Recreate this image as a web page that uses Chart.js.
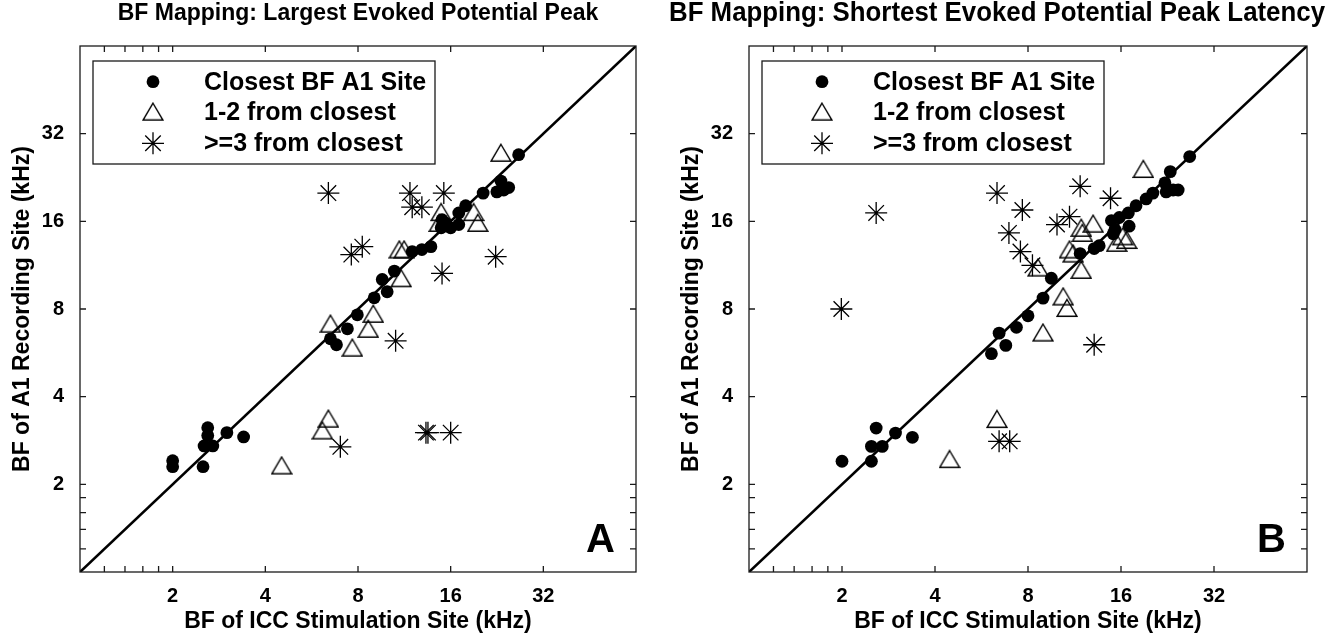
<!DOCTYPE html>
<html>
<head>
<meta charset="utf-8">
<script src="https://cdn.jsdelivr.net/npm/chart.js@4.4.1/dist/chart.umd.min.js"></script>
<style>
  html, body { margin: 0; padding: 0; background: #fff; overflow: hidden; }
  .panel { position: absolute; top: 0; height: 640px; }
</style>
</head>
<body>
<div class="panel" style="left:0px;width:716px"><canvas id="chartA"></canvas></div>
<div class="panel" style="left:669px;width:656px"><canvas id="chartB"></canvas></div>
<script>
// Panel A: largest evoked potential peak (kHz)
const closestAx = [26.6, 23.3, 22.6, 23.8, 24.7, 20.4, 17.9, 17.0, 15.0, 14.9, 16.0, 17.0, 15.4, 13.8, 12.9, 12.0, 10.5, 9.59, 9.95, 9.03, 7.96, 7.39, 6.51, 6.81, 2.60, 2.60, 2.53, 2.70, 3.00, 3.40, 2.0, 2.0, 2.51];
const closestAy = [27.1, 22.0, 20.2, 20.5, 20.9, 20.0, 18.1, 17.1, 16.2, 15.2, 15.2, 15.6, 15.8, 13.1, 12.8, 12.6, 10.8, 10.1, 9.17, 8.74, 7.64, 6.84, 6.32, 6.03, 3.13, 2.94, 2.71, 2.71, 3.01, 2.91, 2.41, 2.30, 2.30];
const nearAx = [23.3, 14.9, 19.0, 19.6, 14.7, 10.9, 11.3, 11.05, 8.97, 8.64, 6.51, 7.67, 6.41, 6.13, 4.52];
const nearAy = [27.5, 17.2, 17.2, 15.8, 15.8, 12.8, 12.8, 10.2, 7.70, 6.84, 7.12, 5.89, 3.36, 3.06, 2.32];
const farAx = [6.41, 11.8, 15.2, 12.0, 12.9, 7.61, 8.26, 22.4, 15.0, 10.6, 7.01, 13.3, 13.5, 16.0];
const farAy = [20.0, 20.0, 20.0, 17.9, 17.9, 12.3, 13.1, 12.1, 10.6, 6.22, 2.69, 3.01, 3.01, 3.01];

// Panel B: shortest evoked potential peak latency (kHz)
const closestBx = [26.7, 23.1, 22.2, 23.6, 24.5, 22.4, 20.3, 19.3, 17.9, 16.9, 15.8, 14.9, 17.0, 15.3, 15.1, 13.6, 13.1, 11.8, 9.52, 8.95, 8.0, 7.34, 6.45, 6.78, 6.09, 2.0, 2.49, 2.58, 2.49, 2.70, 2.98, 3.38];
const closestBy = [26.7, 23.7, 21.7, 20.5, 20.5, 20.2, 20.0, 19.1, 18.1, 17.1, 16.5, 16.1, 15.4, 15.0, 14.5, 13.2, 12.9, 12.4, 10.2, 8.72, 7.58, 6.92, 6.61, 6.0, 5.62, 2.40, 2.40, 3.12, 2.70, 2.70, 3.00, 2.90];
const nearBx = [18.9, 13.0, 11.9, 12.0, 16.2, 16.7, 15.5, 10.9, 11.2, 11.9, 8.62, 10.4, 10.7, 8.95, 6.35, 4.46];
const nearBy = [24.2, 15.7, 15.2, 14.6, 14.2, 13.8, 13.5, 12.8, 12.4, 10.9, 11.1, 8.83, 8.06, 6.64, 3.35, 2.44];
const farBx = [2.58, 1.99, 6.35, 6.94, 7.67, 7.56, 8.27, 11.8, 14.8, 10.9, 9.93, 13.1, 6.45, 6.98];
const farBy = [17.1, 8.0, 20.0, 14.6, 17.5, 12.6, 11.3, 21.1, 19.2, 16.6, 15.6, 6.03, 2.81, 2.81];

const tickValues = [2, 4, 8, 16, 32];
const minorTicks = [1.2, 1.4, 1.6, 1.8];
const axisRange = [1, 64];
const legendLabels = ["Closest BF A1 Site", "1-2 from closest", ">=3 from closest"];

const FONT = "'Liberation Sans', Arial, Helvetica, sans-serif";

function toPoints(xs, ys) {
  return xs.map((x, i) => ({x: x, y: ys[i]}));
}

// open triangle centred on its bounding box, like the matlab '^' marker
function makeTriangle() {
  var c = document.createElement("canvas");
  c.width = 22;
  c.height = 20;
  var g = c.getContext("2d");
  g.strokeStyle = "#000";
  g.lineWidth = 1.4;
  g.beginPath();
  g.moveTo(11, 1.5);
  g.lineTo(20.8, 18.2);
  g.lineTo(1.2, 18.2);
  g.closePath();
  g.stroke();
  return c;
}
const triangle = makeTriangle();

function markerStyle(kind) {
  if (kind === 0) return {pointStyle: "circle", radius: 6.4, backgroundColor: "#000", borderColor: "#000", borderWidth: 0};
  if (kind === 1) return {pointStyle: triangle, radius: 10, backgroundColor: "rgba(0,0,0,0)", borderColor: "#000", borderWidth: 0};
  return {pointStyle: "star", radius: 11, backgroundColor: "rgba(0,0,0,0)", borderColor: "#000", borderWidth: 1.3};
}

function makeDatasets(groups) {
  var sets = groups.map((pts, k) => {
    var m = markerStyle(k);
    return {
      label: legendLabels[k],
      data: pts,
      pointStyle: m.pointStyle,
      pointRadius: m.radius,
      pointHoverRadius: m.radius,
      pointBackgroundColor: m.backgroundColor,
      pointBorderColor: m.borderColor,
      pointBorderWidth: m.borderWidth,
      order: 3 - k
    };
  });
  sets.push({
    label: "unity",
    data: [{x: axisRange[0], y: axisRange[0]}, {x: axisRange[1], y: axisRange[1]}],
    showLine: true,
    borderColor: "#000",
    borderWidth: 2.6,
    pointRadius: 0,
    order: 10
  });
  return sets;
}

// box, inward ticks on all four sides, legend and panel letter
const framePlugin = {
  id: "frame",
  afterDraw(chart, args, opts) {
    var ctx = chart.ctx;
    var a = chart.chartArea;
    var xs = chart.scales.x, ys = chart.scales.y;
    ctx.save();
    ctx.strokeStyle = "#1a1a1a";
    ctx.lineWidth = 1.3;
    ctx.strokeRect(a.left, a.top, a.right - a.left, a.bottom - a.top);
    ctx.beginPath();
    tickValues.concat(minorTicks).forEach((v) => {
      var px = xs.getPixelForValue(v);
      ctx.moveTo(px, a.bottom); ctx.lineTo(px, a.bottom - 6);
      ctx.moveTo(px, a.top); ctx.lineTo(px, a.top + 6);
      var py = ys.getPixelForValue(v);
      ctx.moveTo(a.left, py); ctx.lineTo(a.left + 6, py);
      ctx.moveTo(a.right, py); ctx.lineTo(a.right - 6, py);
    });
    ctx.stroke();

    // legend
    var bx = a.left + 13, by = a.top + 15;
    ctx.fillStyle = "#fff";
    ctx.fillRect(bx, by, 342, 103);
    ctx.lineWidth = 1.3;
    ctx.strokeRect(bx, by, 342, 103);
    var rows = [35.7, 65.7, 97.3];
    ctx.font = "bold 25px " + FONT;
    ctx.textBaseline = "middle";
    ctx.textAlign = "left";
    rows.forEach((ry, k) => {
      var m = markerStyle(k);
      ctx.fillStyle = m.backgroundColor;
      ctx.strokeStyle = m.borderColor;
      ctx.lineWidth = m.borderWidth;
      Chart.helpers.drawPoint(ctx, {pointStyle: m.pointStyle, radius: m.radius, borderWidth: m.borderWidth, rotation: 0}, a.left + 73, a.top + ry);
      ctx.fillStyle = "#000";
      ctx.fillText(legendLabels[k], a.left + 124, a.top + ry + 1);
    });

    // panel letter
    ctx.font = "bold 40px " + FONT;
    ctx.textAlign = "right";
    ctx.textBaseline = "alphabetic";
    ctx.fillStyle = "#000";
    ctx.fillText(opts.letter, a.right - 21, a.bottom - 20.5);
    ctx.restore();
  }
};

function axisOptions(titleText, isX) {
  return {
    type: "logarithmic",
    position: isX ? "bottom" : "left",
    min: axisRange[0],
    max: axisRange[1],
    grid: {display: false},
    border: {display: false},
    afterBuildTicks: (scale) => {
      scale.ticks = tickValues.map((v) => ({value: v}));
    },
    afterFit: (scale) => {
      if (isX) scale.height = 68;
      else scale.width = 80;
    },
    ticks: {
      autoSkip: false,
      maxRotation: 0,
      color: "#000",
      padding: isX ? 6 : 8,
      font: {family: FONT, size: 20, weight: "bold", lineHeight: 1},
      callback: (v) => String(v)
    },
    title: {
      display: true,
      text: titleText,
      color: "#000",
      font: {family: FONT, size: 23, weight: "bold", lineHeight: 1},
      padding: isX ? {top: 0, bottom: 6.5} : {top: 11, bottom: 0}
    }
  };
}

// empty right-hand axis: only reserves room so the title centres like the reference
function spacerAxis(width) {
  return {
    type: "linear",
    position: "right",
    display: true,
    grid: {display: false},
    border: {display: false},
    ticks: {display: false},
    afterFit: (scale) => { scale.width = width; }
  };
}

function drawChart(id, title, titleSize, letter, groups, rightSpace) {
  return new Chart(document.getElementById(id), {
    type: "scatter",
    data: {datasets: makeDatasets(groups)},
    plugins: [framePlugin],
    options: {
      responsive: true,
      maintainAspectRatio: false,
      animation: false,
      events: [],
      layout: {padding: 0},
      scales: {
        x: axisOptions("BF of ICC Stimulation Site (kHz)", true),
        y: axisOptions("BF of A1 Recording Site (kHz)", false),
        yRight: spacerAxis(rightSpace)
      },
      plugins: {
        legend: {display: false},
        tooltip: {enabled: false},
        title: {
          display: true,
          text: title,
          color: "#000",
          font: {family: FONT, size: titleSize, weight: "bold", lineHeight: 1},
          padding: {top: 14 - titleSize / 2, bottom: 32 - titleSize / 2}
        },
        frame: {letter: letter}
      }
    }
  });
}

drawChart("chartA", "BF Mapping: Largest Evoked Potential Peak", 23, "A",
  [toPoints(closestAx, closestAy), toPoints(nearAx, nearAy), toPoints(farAx, farAy)], 80);
drawChart("chartB", "BF Mapping: Shortest Evoked Potential Peak Latency", 26.8, "B",
  [toPoints(closestBx, closestBy), toPoints(nearBx, nearBy), toPoints(farBx, farBy)], 18);
</script>
</body>
</html>
